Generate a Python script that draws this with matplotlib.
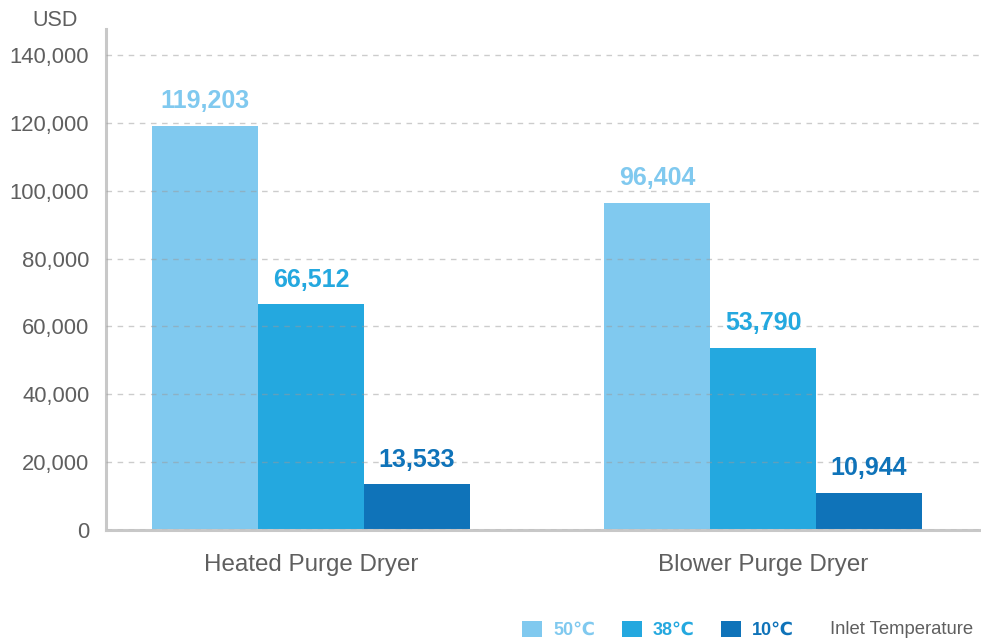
import numpy as np
import matplotlib
matplotlib.use("Agg")
import matplotlib.pyplot as plt

# Data
categories = ["Heated Purge Dryer", "Blower Purge Dryer"]
series_labels = ["50℃", "38℃", "10℃"]
values_50c = [119203, 96404]
values_38c = [66512, 53790]
values_10c = [13533, 10944]
yticks = [0, 20000, 40000, 60000, 80000, 100000, 120000, 140000]

colors = ["#80C9EF", "#24A8DF", "#0F73B9"]
grey_text = "#5f5f5f"

plt.rcParams["font.family"] = ["Liberation Sans", "DejaVu Sans"]

fig = plt.figure(figsize=(9.81, 6.39), dpi=100)
# Axes placed to match the reference layout (pixel based)
ax = fig.add_axes([106 / 981, 109 / 639, 1 - 106 / 981, (530 - 29) / 639])

x = np.arange(len(categories))
width = 0.2345
series = [values_50c, values_38c, values_10c]
for i, (vals, lab, col) in enumerate(zip(series, series_labels, colors)):
    bars = ax.bar(x + (i - 1) * width, vals, width=width, color=col,
                  label=lab, zorder=2)
    ax.bar_label(bars, labels=["{:,}".format(v) for v in vals], padding=9,
                 color=col, fontsize=18, fontweight="bold")

# Axes styling
ax.set_xlim(-0.4535, 1.482)
ax.set_ylim(0, 147700)
ax.set_yticks(yticks)
ax.set_yticklabels(["{:,}".format(v) for v in yticks])
ax.set_xticks(x)
ax.set_xticklabels(categories)
ax.tick_params(axis="y", length=0, pad=12, labelsize=15.8, labelcolor=grey_text)
ax.tick_params(axis="x", length=0, pad=17, labelsize=17.4, labelcolor=grey_text)
for side in ["top", "right"]:
    ax.spines[side].set_visible(False)
for side in ["left", "bottom"]:
    ax.spines[side].set_color("#c8c8c8")
    ax.spines[side].set_linewidth(2.2)
ax.yaxis.grid(True, linestyle=(0, (4, 4)), color="#9a9a9a", alpha=0.5,
              linewidth=1.0, zorder=3)
ax.set_axisbelow(False)

fig.text(55 / 981, 1 - 21 / 639, "USD", ha="center", va="center",
         fontsize=15.5, color=grey_text)

# Legend along the bottom right
leg = ax.legend(loc="center left", bbox_to_anchor=(506 / 981, 1 - 630 / 639),
                bbox_transform=fig.transFigure, ncol=3, frameon=False,
                handlelength=1.1, handleheight=1.0, handletextpad=0.6,
                columnspacing=1.5, prop={"size": 13, "weight": "bold"})
for txt, col in zip(leg.get_texts(), colors):
    txt.set_color(col)
fig.text(830 / 981, 1 - 630 / 639, "Inlet Temperature", ha="left",
         va="center", fontsize=13.3, color=grey_text)

fig.savefig("out.png", dpi=100)
